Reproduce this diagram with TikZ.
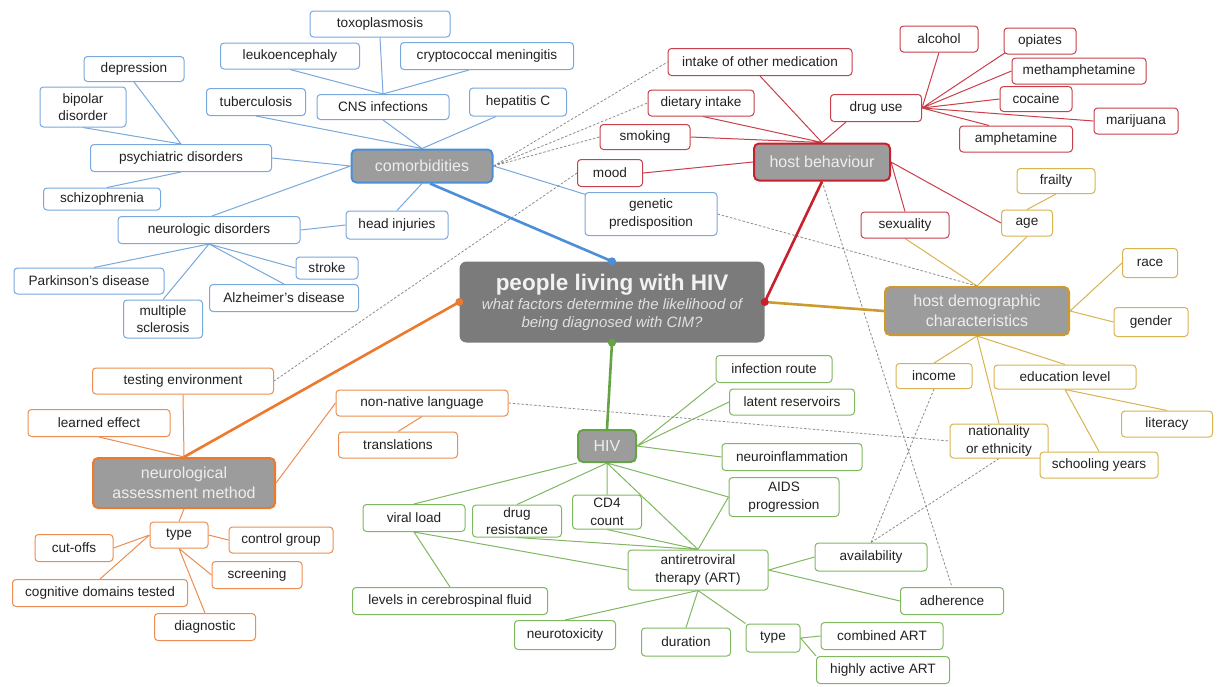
\documentclass[tikz,border=0pt]{standalone}
\usepackage{fontspec}
\setmainfont{Liberation Sans}
\usetikzlibrary{calc,backgrounds}
\definecolor{blueC}{HTML}{78A8DC}
\definecolor{blueD}{HTML}{4A8FD8}
\definecolor{redC}{HTML}{C9404A}
\definecolor{redD}{HTML}{C8202C}
\definecolor{goldC}{HTML}{D9B352}
\definecolor{goldD}{HTML}{CC9A2E}
\definecolor{orangeC}{HTML}{EC8E52}
\definecolor{orangeD}{HTML}{EB7A2E}
\definecolor{greenC}{HTML}{80B862}
\definecolor{greenD}{HTML}{64A444}
\definecolor{hubfill}{HTML}{9C9C9C}
\definecolor{cenfill}{HTML}{7B7B7B}
\definecolor{txt}{HTML}{222222}
\definecolor{dash}{HTML}{8C8C8C}
\tikzset{
  leaf/.style={draw, fill=white, rounded corners=3.5pt, line width=1pt, inner sep=1pt, align=center,
    text=txt, font=\fontsize{13.6}{17.5}\selectfont},
  lB/.style={leaf, draw=blueC}, lR/.style={leaf, draw=redC}, lY/.style={leaf, draw=goldC},
  lO/.style={leaf, draw=orangeC}, lG/.style={leaf, draw=greenC},
  hub/.style={draw, fill=hubfill, rounded corners=5pt, line width=2pt, inner sep=2pt, align=center,
    text=white!93!black, font=\fontsize{16}{20}\selectfont},
  eB/.style={draw=blueC, line width=1pt}, eR/.style={draw=redC, line width=1pt},
  eY/.style={draw=goldC, line width=1pt}, eO/.style={draw=orangeC, line width=1pt},
  eG/.style={draw=greenC, line width=1pt},
  main/.style={line width=2.6pt},
  dsh/.style={draw=dash, line width=0.8pt, dash pattern=on 2.5pt off 1.8pt},
}
\begin{document}
\begin{tikzpicture}[x=1pt,y=-1pt]
\useasboundingbox (0,0) rectangle (1217,686);
% central
\node[fill=cenfill, rounded corners=7pt, minimum width=305pt, minimum height=81pt, align=center, inner sep=2pt,
  text=white!95!black, font=\fontsize{15}{18}\selectfont] (central) at (612,302)
 {{\fontsize{22.5}{22}\selectfont\bfseries people living with HIV}\\[1pt]
  {\itshape\color{white!88!black}what factors determine the likelihood of}\\
  {\itshape\color{white!88!black}being diagnosed with CIM?}};
% hubs
\node[hub, draw=blueD, minimum width=141pt, minimum height=33pt] (comorb) at (422,166) {comorbidities};
\node[hub, draw=redD, minimum width=136pt, minimum height=37pt] (hb) at (822,162) {host behaviour};
\node[hub, draw=goldD, minimum width=184pt, minimum height=48pt] (hd) at (977,311) {host demographic\\characteristics};
\node[hub, draw=orangeD, minimum width=182pt, minimum height=50pt] (nam) at (184,483) {neurological\\assessment method};
\node[hub, draw=greenD, minimum width=58pt, minimum height=32pt] (hiv) at (607,446) {HIV};
% blue leaves
\node[lB, minimum width=140pt, minimum height=26pt] (tox) at (380,24) {toxoplasmosis};
\node[lB, minimum width=139pt, minimum height=26pt] (leuko) at (290,56) {leukoencephaly};
\node[lB, minimum width=173pt, minimum height=27pt] (crypto) at (487,56) {cryptococcal meningitis};
\node[lB, minimum width=132pt, minimum height=25pt] (cns) at (383,107) {CNS infections};
\node[lB, minimum width=99pt, minimum height=27pt] (tb) at (256,102) {tuberculosis};
\node[lB, minimum width=97pt, minimum height=28pt] (hepc) at (518,102) {hepatitis C};
\node[lB, minimum width=100pt, minimum height=25pt] (dep) at (134,69) {depression};
\node[lB, minimum width=86pt, minimum height=40pt] (bip) at (83,107) {bipolar\\disorder};
\node[lB, minimum width=181pt, minimum height=27pt] (psy) at (181,158) {psychiatric disorders};
\node[lB, minimum width=117pt, minimum height=22pt] (schiz) at (102,199) {schizophrenia};
\node[lB, minimum width=182pt, minimum height=27pt] (neuro) at (209,230) {neurologic disorders};
\node[lB, minimum width=102pt, minimum height=28pt] (head) at (397,225) {head injuries};
\node[lB, minimum width=150pt, minimum height=26pt] (park) at (89,281) {Parkinson's disease};
\node[lB, minimum width=62pt, minimum height=22pt] (stroke) at (327,268) {stroke};
\node[lB, minimum width=149pt, minimum height=27pt] (alz) at (284,298) {Alzheimer's disease};
\node[lB, minimum width=79pt, minimum height=38pt] (ms) at (163,319) {multiple\\sclerosis};
\node[lB, minimum width=132pt, minimum height=43pt] (gen) at (651,214) {genetic\\predisposition};
% red leaves
\node[lR, minimum width=184pt, minimum height=27pt] (med) at (760,62) {intake of other medication};
\node[lR, minimum width=106pt, minimum height=26pt] (diet) at (701,103) {dietary intake};
\node[lR, minimum width=90pt, minimum height=25pt] (smoke) at (645,137) {smoking};
\node[lR, minimum width=65pt, minimum height=27pt] (mood) at (610,173) {mood};
\node[lR, minimum width=91pt, minimum height=27pt] (drug) at (876,108) {drug use};
\node[lR, minimum width=78pt, minimum height=26pt] (alc) at (939,39) {alcohol};
\node[lR, minimum width=72pt, minimum height=26pt] (opi) at (1040,41) {opiates};
\node[lR, minimum width=134pt, minimum height=26pt] (meth) at (1079,71) {methamphetamine};
\node[lR, minimum width=72pt, minimum height=25pt] (coc) at (1036,99) {cocaine};
\node[lR, minimum width=84pt, minimum height=26pt] (mari) at (1136,121) {marijuana};
\node[lR, minimum width=113pt, minimum height=26pt] (amph) at (1016,139) {amphetamine};
\node[lR, minimum width=88pt, minimum height=26pt] (sex) at (905,225) {sexuality};
% gold leaves
\node[lY, minimum width=51pt, minimum height=26pt] (age) at (1027,223) {age};
\node[lY, minimum width=78pt, minimum height=25pt] (frail) at (1056,181) {frailty};
\node[lY, minimum width=55pt, minimum height=29pt] (race) at (1150,263) {race};
\node[lY, minimum width=74pt, minimum height=29pt] (gender) at (1151,322) {gender};
\node[lY, minimum width=76pt, minimum height=25pt] (income) at (934,376) {income};
\node[lY, minimum width=142pt, minimum height=24pt] (edu) at (1065,377) {education level};
\node[lY, minimum width=91pt, minimum height=26pt] (lit) at (1167,424) {literacy};
\node[lY, minimum width=98pt, minimum height=34pt] (nat) at (999,441) {nationality\\or ethnicity};
\node[lY, minimum width=118pt, minimum height=26pt] (school) at (1099,465) {schooling years};
% orange leaves
\node[lO, minimum width=181pt, minimum height=26pt] (test) at (183,381) {testing environment};
\node[lO, minimum width=142pt, minimum height=27pt] (learn) at (99,423) {learned effect};
\node[lO, minimum width=58pt, minimum height=26pt] (otype) at (179,535) {type};
\node[lO, minimum width=78pt, minimum height=27pt] (cut) at (74,548) {cut-offs};
\node[lO, minimum width=104pt, minimum height=26pt] (ctrl) at (281,540) {control group};
\node[lO, minimum width=90pt, minimum height=27pt] (screen) at (257,575) {screening};
\node[lO, minimum width=175pt, minimum height=27pt] (cog) at (100,593) {cognitive domains tested};
\node[lO, minimum width=101pt, minimum height=27pt] (diag) at (205,627) {diagnostic};
\node[lO, minimum width=172pt, minimum height=26pt] (nonnat) at (422,403) {non-native language};
\node[lO, minimum width=119pt, minimum height=26pt] (trans) at (398,445) {translations};
% green leaves
\node[lG, minimum width=116pt, minimum height=27pt] (inf) at (774,369) {infection route};
\node[lG, minimum width=125pt, minimum height=26pt] (lat) at (792,402) {latent reservoirs};
\node[lG, minimum width=140pt, minimum height=27pt] (ninf) at (792,457) {neuroinflammation};
\node[lG, minimum width=110pt, minimum height=39pt] (aids) at (784,497) {AIDS\\progression};
\node[lG, minimum width=102pt, minimum height=27pt] (viral) at (414,518) {viral load};
\node[lG, minimum width=89pt, minimum height=32pt] (dres) at (517,521) {drug\\resistance};
\node[lG, minimum width=69pt, minimum height=34pt] (cd4) at (607,512) {CD4\\count};
\node[lG, minimum width=140pt, minimum height=40pt] (art) at (698,570) {antiretroviral\\therapy (ART)};
\node[lG, minimum width=112pt, minimum height=28pt] (avail) at (871,557) {availability};
\node[lG, minimum width=103pt, minimum height=27pt] (adh) at (952,601) {adherence};
\node[lG, minimum width=195pt, minimum height=27pt] (csf) at (450,601) {levels in cerebrospinal fluid};
\node[lG, minimum width=101pt, minimum height=29pt] (ntox) at (565,635) {neurotoxicity};
\node[lG, minimum width=89pt, minimum height=28pt] (dur) at (686,642) {duration};
\node[lG, minimum width=54pt, minimum height=28pt] (gtype) at (773,638) {type};
\node[lG, minimum width=122pt, minimum height=27pt] (comb) at (882,636) {combined ART};
\node[lG, minimum width=133pt, minimum height=27pt] (haart) at (883,670) {highly active ART};

\begin{scope}[on background layer]
\fill[white] (0,0) rectangle (1217,686);
% blue
\path[eB] (comorb.north) -- (cns.south) (cns.north) -- (tox.south) (cns.north) -- (leuko.south)
  (cns.north) -- ($(crypto.south)+(-18,0)$) (comorb.north) -- (tb.south) (comorb.north) -- ($(hepc.south)+(-22,0)$)
  (comorb.west) -- (psy.east) (comorb.west) -- ($(neuro.north)+(3,0)$) (comorb.south) -- (head.north)
  (comorb.east) -- ($(gen.north west)+(6,4)$)
  (psy.north) -- (dep.south) (psy.north) -- (bip.south) (psy.south) -- ($(schiz.north)+(5,0)$)
  (neuro.east) -- (head.west) (neuro.south) -- ($(park.north)+(5,0)$) (neuro.south) -- (ms.north)
  (neuro.south) -- (alz.north) (neuro.south) -- (stroke.west);
% red
\path[eR] (med.south) -- (hb.north) ($(diet.south)+(2,0)$) -- (hb.north) (smoke.east) -- (hb.north)
  ($(drug.south)+(-30,0)$) -- (hb.north) (mood.east) -- (hb.west)
  (hb.east) -- (sex.north) (hb.east) -- (age.west)
  (drug.east) -- (alc.south) (drug.east) -- ($(opi.south west)+(2,-2)$) (drug.east) -- (meth.west)
  (drug.east) -- (coc.west) (drug.east) -- (mari.west) (drug.east) -- ($(amph.north west)+(30,0)$);
% gold
\path[eY] (hd.north) -- (sex.south) (hd.north) -- (age.south) (age.north) -- (frail.south)
  (hd.east) -- (race.west) (hd.east) -- (gender.west) (hd.south) -- (income.north)
  (hd.south) -- (nat.north) (hd.south) -- (edu.north) (edu.south) -- (lit.north) (edu.south) -- (school.north);
% orange
\path[eO] (nam.north) -- (test.south) (nam.north) -- (learn.south) (nam.east) -- (nonnat.west)
  (nonnat.south) -- (trans.north) (nam.south) -- (otype.north) (otype.west) -- (cut.east)
  (otype.west) -- (cog.north) (otype.east) -- (ctrl.west) (otype.south) -- (screen.west) (otype.south) -- (diag.north);
% green
\path[eG] (hiv.east) -- (inf.south west) (hiv.east) -- (lat.west) (hiv.east) -- (ninf.west)
  (hiv.south) -- (aids.west) (hiv.south) -- (art.north) (hiv.south) -- (cd4.north)
  (hiv.south) -- (dres.north) (hiv.south west) -- (viral.north)
  (art.north) -- (aids.west) (cd4.south) -- (art.north) (dres.south) -- (art.north)
  (viral.south) -- (art.west) (viral.south) -- (csf.north)
  (art.east) -- (avail.west) (art.east) -- (adh.west) (art.south) -- (ntox.north)
  (art.south) -- (dur.north) (art.south) -- (gtype.north west) (gtype.east) -- (comb.west)
  (gtype.east) -- (haart.north west);
% dashed cross links
\path[dsh] (comorb.east) -- (med.west) (comorb.east) -- (diet.west) (comorb.east) -- (smoke.west)
  (mood.west) -- (test.east) (hb.south) -- (adh.north) (gen.east) -- (hd.north)
  (nonnat.east) -- (nat.west) (income.south) -- (avail.north) (nat.south) -- (avail.north);
% main branches
\draw[main, blueD] ($(comorb.south)+(8,0)$) -- (central.north);
\draw[main, redD] (hb.south) -- (central.east);
\draw[main, goldD] (hd.west) -- (central.east);
\draw[main, orangeD] (nam.north) -- (central.west);
\draw[main, greenD] (hiv.north) -- (central.south);
\end{scope}
\fill[blueD] (central.north) circle (4);
\fill[redD] (central.east) circle (4);
\fill[orangeD] (central.west) circle (4);
\fill[greenD] (central.south) circle (4);
\end{tikzpicture}
\end{document}
